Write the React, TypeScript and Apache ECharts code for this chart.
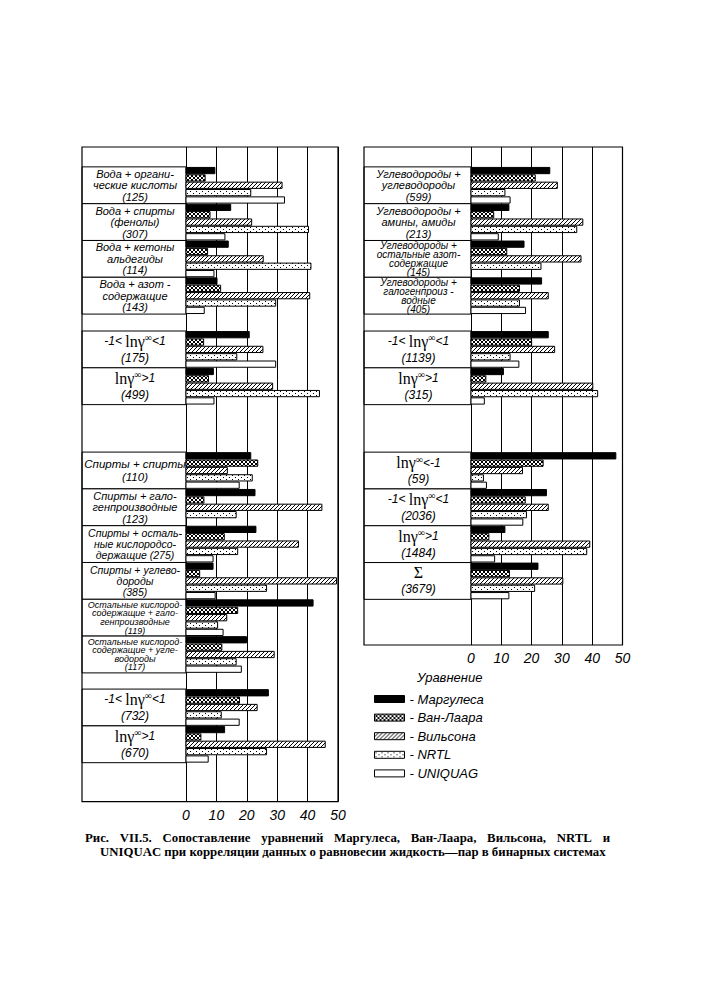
import React, { useEffect, useRef } from "react";
import * as echarts from "echarts";

// ---------- data ----------
const methods = ["Маргулеса", "Ван-Лаара", "Вильсона", "NRTL", "UNIQUAG"];
const xTicks = [0, 10, 20, 30, 40, 50];

const leftLabels = [
  "Вода + органи-\nческие кислоты\n(125)",
  "Вода + спирты\n(фенолы)\n(307)",
  "Вода + кетоны\nальдегиды\n(114)",
  "Вода + азот -\nсодержащие\n(143)",
  "-1<lnγ∞<1\n(175)",
  "lnγ∞>1\n(499)",
  "Спирты + спирты\n(110)",
  "Спирты + гало-\nгенпроизводные\n(123)",
  "Спирты + осталь-\nные кислородсо-\nдержащие (275)",
  "Спирты + углево-\nдороды\n(385)",
  "Остальные кислород-\nсодержащие + гало-\nгенпроизводные\n(119)",
  "Остальные кислород-\nсодержащие + угле-\nводороды\n(117)",
  "-1<lnγ∞<1\n(732)",
  "lnγ∞>1\n(670)",
];
const leftMargules = [9.5, 14.7, 13.9, 10.2, 20.8, 9.0, 21.3, 22.7, 23.0, 8.9, 41.8, 19.9, 27.1, 12.7];
const leftVanLaar = [6.3, 7.9, 7.1, 11.4, 5.8, 7.4, 23.6, 5.9, 12.6, 4.5, 17.0, 11.8, 17.6, 4.9];
const leftWilson = [31.6, 21.6, 25.4, 40.7, 25.3, 28.5, 13.6, 44.7, 37.0, 49.5, 13.4, 29.0, 23.4, 45.8];
const leftNRTL = [21.3, 40.3, 41.1, 29.5, 16.7, 43.9, 21.8, 16.5, 17.0, 26.5, 10.4, 16.5, 11.6, 26.5];
const leftUNIQUAC = [32.4, 12.8, 9.2, 6.0, 29.5, 9.2, 17.5, null, 8.9, 9.6, 12.2, 18.2, 17.5, 7.3];

const rightLabels = [
  "Углеводороды +\nуглеводороды\n(599)",
  "Углеводороды +\nамины, амиды\n(213)",
  "Углеводороды +\nостальные азот-\nсодержащие\n(145)",
  "Углеводороды +\nгалогенпроиз -\nводные\n(405)",
  "-1<lnγ∞<1\n(1139)",
  "lnγ∞>1\n(315)",
  "lnγ∞<-1\n(59)",
  "-1<lnγ∞<1\n(2036)",
  "lnγ∞>1\n(1484)",
  "Σ\n(3679)",
];
const rightMargules = [26.0, 12.5, 17.5, 23.3, 25.5, 10.7, 47.8, 24.9, 11.2, 22.1];
const rightVanLaar = [21.2, 7.5, 11.8, 16.0, 20.0, 4.9, 23.8, 17.9, 5.9, 12.7];
const rightWilson = [28.5, 36.9, 36.3, 25.5, 27.6, 40.2, 17.0, 25.5, 39.2, 30.3];
const rightNRTL = [11.2, 34.9, 23.1, 16.0, 12.9, 41.8, 4.1, 18.3, 38.2, 21.0];
const rightUNIQUAC = [12.9, 9.0, null, 18.0, 15.8, 4.4, 5.1, 17.1, 7.8, 12.5];

const captionLine1 = "Рис. VII.5. Сопоставление уравнений Маргулеса, Ван-Лаара, Вильсона, NRTL и";
const captionLine2 = "UNIQUAC при корреляции данных о равновесии жидкость—пар в бинарных системах";

// ---------- layout (row units, one row = one group box) ----------
const leftSlots = [0.54, 1.54, 2.54, 3.54, 5.0, 6.0, 8.29, 9.29, 10.29, 11.29, 12.29, 13.29, 14.73, 15.73];
const leftRows = 17.79;
const rightSlots = [0.54, 1.54, 2.54, 3.54, 5.0, 6.0, 8.29, 9.29, 10.29, 11.29];
const rightRows = 13.53;

const panels = [
  {
    labels: leftLabels,
    values: [leftMargules, leftVanLaar, leftWilson, leftNRTL, leftUNIQUAC],
    slots: leftSlots, rows: leftRows,
    left: 186, top: 147, width: 152, height: 654.7, labelW: 104,
  },
  {
    labels: rightLabels,
    values: [rightMargules, rightVanLaar, rightWilson, rightNRTL, rightUNIQUAC],
    slots: rightSlots, rows: rightRows,
    left: 471, top: 147, width: 151.5, height: 498, labelW: 107,
  },
];

const SANS = '"Liberation Sans", Arial, sans-serif';
const SERIF = '"Liberation Serif", "Times New Roman", serif';

function makePattern(kind: string): any {
  if (kind === "solid") return "#000";
  const c = document.createElement("canvas");
  let w = 4, h = 4;
  if (kind === "dots") { w = 6; h = 4; }
  c.width = w; c.height = h;
  const ctx = c.getContext("2d")!;
  ctx.fillStyle = "#fff";
  ctx.fillRect(0, 0, w, h);
  ctx.fillStyle = "#000";
  for (let x = 0; x < w; x++) {
    for (let y = 0; y < h; y++) {
      let on = false;
      if (kind === "cross") on = x === y || x + y === 3;
      if (kind === "hatch") on = (x + y) % 4 === 3;
      if (kind === "dots") on = (x === 1 && y === 1) || (x === 4 && y === 3);
      if (on) ctx.fillRect(x, y, 1, 1);
    }
  }
  return { image: c, repeat: "repeat", imageWidth: w, imageHeight: h };
}

// justified line: returns graphic text elements spread between x0 and x1
function justify(text: string, x0: number, x1: number, y: number, font: string) {
  const words = text.split(" ");
  const ctx = document.createElement("canvas").getContext("2d")!;
  ctx.font = font;
  const widths = words.map((w) => ctx.measureText(w).width);
  const total = widths.reduce((a, b) => a + b, 0);
  const gap = (x1 - x0 - total) / (words.length - 1);
  let x = x0;
  return words.map((w, i) => {
    const el = { type: "text", x, y, style: { text: w, font, fill: "#000", verticalAlign: "middle" } };
    x += widths[i] + gap;
    return el;
  });
}

function buildLabel(label: string) {
  const lines = label.split("\n");
  const isMath = lines.some((l) => l.indexOf("lnγ∞") >= 0 || l === "Σ");
  const maxLen = Math.max(...lines.map((l) => l.length));
  let fs = 11, lh = 11.5;
  if (lines.length === 2) { fs = 11.5; lh = 12.5; }
  if (lines.length === 3 && maxLen >= 16) { fs = 10.5; lh = 11; }
  if (lines.length === 4) {
    if (maxLen >= 18) { fs = 9; lh = 8.6; } else { fs = 10; lh = 9; }
  }
  const rich: any = {
    t: { fontFamily: SANS, fontStyle: "italic", fontSize: fs, lineHeight: lh, fill: "#000" },
    a: { fontFamily: SANS, fontStyle: "italic", fontSize: 12, lineHeight: 17, fill: "#000" },
    m: { fontFamily: SERIF, fontSize: 16, lineHeight: 17, fill: "#000" },
    s: { fontFamily: SERIF, fontSize: 10, lineHeight: 10, verticalAlign: "top", fill: "#000" },
    p: { fontFamily: SANS, fontStyle: "italic", fontSize: 12, lineHeight: 16, fill: "#000" },
  };
  const out = lines.map((l) => {
    if (!isMath) return `{t|${l}}`;
    if (l === "Σ") return `{m|Σ}`;
    if (l.indexOf("lnγ∞") >= 0) {
      const [pre, post] = l.split("lnγ∞");
      let s = "";
      if (pre) s += `{a|${pre} }`;
      s += `{m|lnγ}{s|∞}`;
      if (post) s += `{a|${post}}`;
      return s;
    }
    return `{p|${l}}`;
  });
  return { text: out.join("\n"), rich };
}

export default function App() {
  const ref = useRef<HTMLDivElement>(null);
  useEffect(() => {
    const chart = echarts.init(ref.current!, null, { renderer: "svg" });
    const patterns = [makePattern("solid"), makePattern("cross"), makePattern("hatch"), makePattern("dots"), "#fff"];

    const series: any[] = [];
    panels.forEach((pn, p) => {
      // label boxes
      series.push({
        type: "custom",
        xAxisIndex: p, yAxisIndex: p,
        silent: true,
        data: pn.labels.map((_, i) => [i, 0]),
        encode: { x: 1, y: 0 },
        renderItem: (params: any, api: any) => {
          const gi = api.value(0);
          const slot = pn.slots[gi];
          const a = api.coord([0, slot]);
          const b = api.coord([0, slot + 1]);
          const x0 = a[0] - pn.labelW;
          const lab = buildLabel(pn.labels[gi]);
          return {
            type: "group",
            children: [
              { type: "rect", shape: { x: x0, y: a[1], width: pn.labelW, height: b[1] - a[1] },
                style: { fill: "#fff", stroke: "#000", lineWidth: 1 } },
              { type: "text", x: x0 + pn.labelW / 2 + 1, y: (a[1] + b[1]) / 2,
                style: { text: lab.text, rich: lab.rich, align: "center", verticalAlign: "middle" } },
            ],
          };
        },
        z: 3,
      });
      // bars
      methods.forEach((m, s) => {
        const vals = pn.values[s];
        series.push({
          type: "custom",
          name: m,
          xAxisIndex: p, yAxisIndex: p,
          silent: true,
          itemStyle: { color: patterns[s], borderColor: "#000", borderWidth: 1 },
          data: vals.map((v, i) => [i, v]).filter((d) => d[1] != null),
          encode: { x: 1, y: 0 },
          renderItem: (params: any, api: any) => {
            const gi = api.value(0);
            const v = api.value(1);
            const slot = pn.slots[gi];
            const a = api.coord([0, slot + s * 0.2 + 0.015]);
            const b = api.coord([v, slot + (s + 1) * 0.2 - 0.015]);
            return {
              type: "rect",
              shape: { x: a[0], y: a[1], width: b[0] - a[0], height: b[1] - a[1] },
              style: { fill: patterns[s], stroke: "#000", lineWidth: 1 },
            };
          },
          z: 4,
        });
      });
    });

    const captionFont = `bold 12.8px ${SERIF}`;
    const option: any = {
      animation: false,
      backgroundColor: "#fff",
      grid: panels.map((pn) => ({ left: pn.left, top: pn.top, width: pn.width, height: pn.height })),
      xAxis: panels.map((pn, p) => ({
        type: "value", gridIndex: p, min: xTicks[0], max: xTicks[xTicks.length - 1], interval: 10,
        axisLine: { show: false }, axisTick: { show: false },
        axisLabel: { color: "#000", fontFamily: SANS, fontStyle: "italic", fontSize: 14, margin: 6 },
        splitLine: { show: true, lineStyle: { color: "#000", width: 1 } },
      })),
      yAxis: panels.map((pn, p) => ({
        type: "value", gridIndex: p, min: 0, max: pn.rows, inverse: true, show: false,
      })),
      legend: {
        data: methods,
        orient: "vertical",
        left: 369, top: 687,
        itemWidth: 30, itemHeight: 7, itemGap: 4.6,
        icon: "rect",
        selectedMode: false,
        formatter: (n: string) => "- " + n,
        itemStyle: { borderColor: "#000", borderWidth: 1 },
        textStyle: { color: "#000", fontFamily: SANS, fontStyle: "italic", fontSize: 13, lineHeight: 14 },
      },
      graphic: [
        ...panels.map((pn) => ({
          type: "rect",
          shape: { x: pn.left - pn.labelW, y: pn.top, width: pn.labelW + pn.width, height: pn.height },
          style: { fill: "none", stroke: "#000", lineWidth: 1.2 },
          z: 10,
        })),
        {
          type: "text", x: 417, y: 677,
          style: { text: "Уравнение", font: `italic 13px ${SANS}`, fill: "#000", verticalAlign: "middle" },
        },
        ...justify(captionLine1, 85, 610, 838, captionFont),
        {
          type: "text", x: 100, y: 852,
          style: { text: captionLine2, font: captionFont, fill: "#000", verticalAlign: "middle" },
        },
      ],
      series,
    };
    chart.setOption(option);
    return () => chart.dispose();
  }, []);
  return <div ref={ref} style={{ position: "absolute", left: 0, top: 0, width: 702, height: 1000 }} />;
}
